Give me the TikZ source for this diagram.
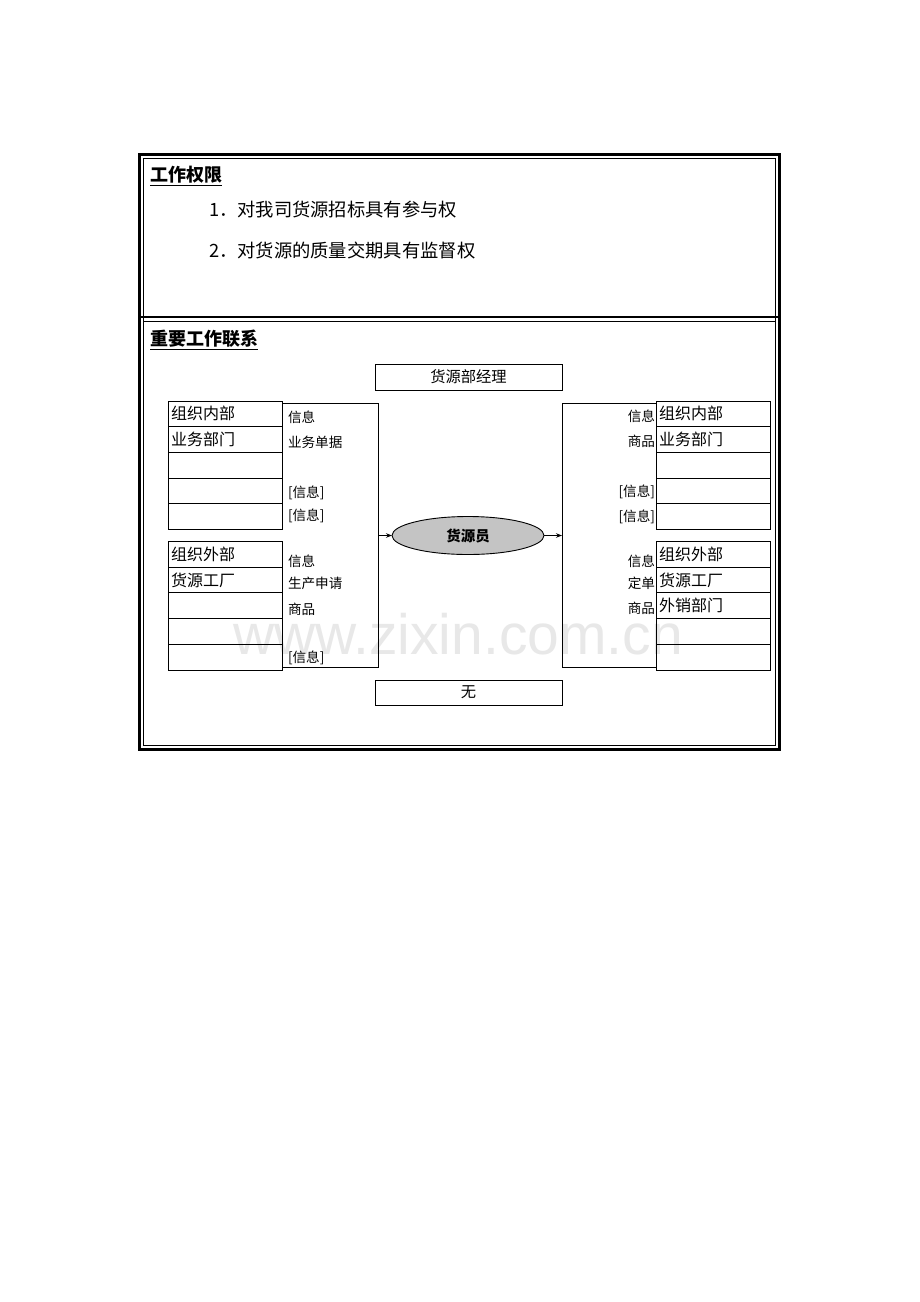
\documentclass[tikz,border=0pt]{standalone}
\usepackage{fontspec}
\setmainfont{Noto Sans CJK SC}
\newfontfamily\wmfont{Liberation Sans}
\usetikzlibrary{shapes.geometric,arrows.meta}
\tikzset{
  every node/.style={inner sep=0pt, outer sep=0pt},
  rowbox/.style={draw, line width=0.9pt, minimum width=114pt, minimum height=25.7pt,
                 text width=108pt, inner xsep=3pt, align=left, anchor=north west,
                 font=\fontsize{16}{17}\selectfont},
  centerbox/.style={draw, line width=0.9pt, minimum width=187pt, font=\fontsize{15.3}{16}\selectfont},
  flowlab/.style={font=\fontsize{13.6}{14}\selectfont},
  heading/.style={anchor=west, font=\fontsize{18}{19}\selectfont\bfseries},
  item/.style={anchor=west, font=\fontsize{18.3}{19}\selectfont},
  conn/.style={line width=0.9pt, -{Stealth[length=6pt,width=4.5pt]}},
  bigframe/.style={line width=0.9pt},
}
\begin{document}
\begin{tikzpicture}[x=1pt,y=-1pt]
\useasboundingbox[fill=white] (0,0) rectangle (920,1302);

% watermark
\node[anchor=base west, font=\wmfont\fontsize{57}{57}\selectfont, text=black!9] (wm) at (233,654) {www.zixin.com.cn};

% outer double frame
\draw[line width=3pt] (139.5,154.5) rectangle (779.5,749.5);
\draw[line width=0.8pt] (143.5,158.5) rectangle (775.5,745.5);
\draw[line width=2.5pt] (141,317) -- (778,317);
\fill[white] (144,318.5) rectangle (775,320.4);
\draw[line width=0.8pt] (143.5,321) -- (775.5,321);

% section 1
\node[heading] (h1) at (150,176) {\underline{工作权限}};
\node[item] (i1) at (209,210) {1．对我司货源招标具有参与权};
\node[item] (i2) at (209,251) {2．对货源的质量交期具有监督权};

% section 2
\node[heading] (h2) at (150,340) {\underline{重要工作联系}};

\node[centerbox, minimum height=26pt] (mgr) at (468.5,377) {货源部经理};
\node[centerbox, minimum height=25pt] (none) at (468.5,692.5) {无};

% big flow frames (open on the box side)
\draw[bigframe] (282,403) -- (378,403) -- (378,667) -- (282,667);
\draw[bigframe] (656,403) -- (562,403) -- (562,667) -- (656,667);

% left boxes
\foreach \i/\t in {1/组织内部,2/业务部门,3/{},4/{},5/{}}{
  \node[rowbox] (L\i) at (168,{401+(\i-1)*25.7}) {\t};
}
\foreach \i/\t in {6/组织外部,7/货源工厂,8/{},9/{},10/{}}{
  \node[rowbox] (L\i) at (168,{541.5+(\i-6)*25.7}) {\t};
}
% right boxes
\foreach \i/\t in {1/组织内部,2/业务部门,3/{},4/{},5/{}}{
  \node[rowbox] (R\i) at (656,{401+(\i-1)*25.7}) {\t};
}
\foreach \i/\t in {6/组织外部,7/货源工厂,8/外销部门,9/{},10/{}}{
  \node[rowbox] (R\i) at (656,{541.5+(\i-6)*25.7}) {\t};
}

% left flow labels
\node[flowlab, anchor=west] (la1) at (288,417) {信息};
\node[flowlab, anchor=west] (la2) at (288,442) {业务单据};
\node[flowlab, anchor=west] (la3) at (288,493) {[信息]};
\node[flowlab, anchor=west] (la4) at (288,516) {[信息]};
\node[flowlab, anchor=west] (la5) at (288,561) {信息};
\node[flowlab, anchor=west] (la6) at (288,583) {生产申请};
\node[flowlab, anchor=west] (la7) at (288,609) {商品};
\node[flowlab, anchor=west] (la8) at (288,658) {[信息]};

% right flow labels
\node[flowlab, anchor=east] (ra1) at (655,416) {信息};
\node[flowlab, anchor=east] (ra2) at (655,441) {商品};
\node[flowlab, anchor=east] (ra3) at (655,492) {[信息]};
\node[flowlab, anchor=east] (ra4) at (655,517) {[信息]};
\node[flowlab, anchor=east] (ra5) at (655,561) {信息};
\node[flowlab, anchor=east] (ra6) at (655,583) {定单};
\node[flowlab, anchor=east] (ra7) at (655,608) {商品};

% central ellipse
\node[ellipse, draw, line width=0.9pt, fill=black!23, minimum width=152pt, minimum height=38pt,
      font=\fontsize{14.5}{15}\selectfont\bfseries] (emp) at (468,535.5) {货源员};

\coordinate (lout) at (378,535.5);
\coordinate (rin) at (562,535.5);
\draw[conn] (lout) -- (emp.west);
\draw[conn] (emp.east) -- (rin);
\end{tikzpicture}
\end{document}
